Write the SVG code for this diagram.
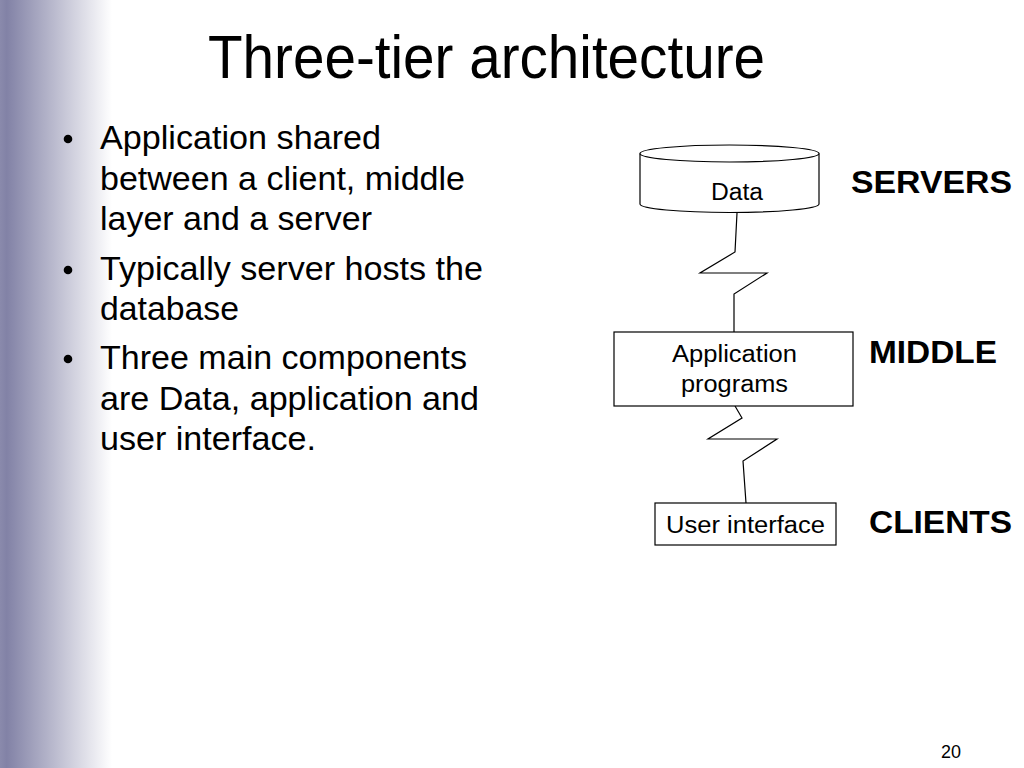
<svg xmlns="http://www.w3.org/2000/svg" width="1024" height="768" viewBox="0 0 1024 768">
<defs>
<linearGradient id="side" x1="0" y1="0" x2="1" y2="0">
<stop offset="0" stop-color="#8a8aac"/>
<stop offset="0.06" stop-color="#8282a6"/>
<stop offset="1" stop-color="#ffffff"/>
</linearGradient>
<style>
.t{font-family:"Liberation Sans",Arial,sans-serif;fill:#000}
.b{font-weight:bold}
.s{fill:#fff;stroke:#000;stroke-width:1.2}
.c{fill:none;stroke:#000;stroke-width:1.2}
</style>
</defs>
<rect width="1024" height="768" fill="#fff"/>
<rect x="0" y="0" width="112" height="768" fill="url(#side)"/>
<text class="t" x="208" y="78" font-size="61" textLength="557" lengthAdjust="spacingAndGlyphs">Three-tier architecture</text>
<g id="bullets">
<circle cx="68" cy="139" r="4.3"/>
<circle cx="68" cy="270" r="4.3"/>
<circle cx="68" cy="359" r="4.3"/>
<text class="t" x="100" y="149" font-size="33" textLength="281" lengthAdjust="spacingAndGlyphs">Application shared</text>
<text class="t" x="100" y="190" font-size="33" textLength="365" lengthAdjust="spacingAndGlyphs">between a client, middle</text>
<text class="t" x="100" y="230" font-size="33" textLength="272" lengthAdjust="spacingAndGlyphs">layer and a server</text>
<text class="t" x="100" y="280" font-size="33" textLength="383" lengthAdjust="spacingAndGlyphs">Typically server hosts the</text>
<text class="t" x="100" y="320" font-size="33" textLength="139" lengthAdjust="spacingAndGlyphs">database</text>
<text class="t" x="100" y="369" font-size="33" textLength="367" lengthAdjust="spacingAndGlyphs">Three main components</text>
<text class="t" x="100" y="410" font-size="33" textLength="379" lengthAdjust="spacingAndGlyphs">are Data, application and</text>
<text class="t" x="100" y="450" font-size="33" textLength="216" lengthAdjust="spacingAndGlyphs">user interface.</text>
</g>
<g id="connectors">
<polyline class="c" points="737,213 735,252 700,273 767,273 734,294 734,332"/>
<polyline class="c" points="735,406 742,418 708,439 777,439 743,461 746,503"/>
</g>
<g id="data">
<path class="s" d="M640,153.5 L640,204 A89.5,8.5 0 0 0 819,204 L819,153.5"/>
<ellipse class="s" cx="729.5" cy="153.5" rx="89.5" ry="8.5"/>
<text class="t" x="711" y="200" font-size="23" textLength="52" lengthAdjust="spacingAndGlyphs">Data</text>
</g>
<g id="app">
<rect class="s" x="614" y="332" width="239" height="74"/>
<text class="t" x="672" y="362" font-size="23" textLength="125" lengthAdjust="spacingAndGlyphs">Application</text>
<text class="t" x="681" y="392" font-size="23" textLength="107" lengthAdjust="spacingAndGlyphs">programs</text>
</g>
<g id="ui">
<rect class="s" x="655" y="503" width="181" height="42"/>
<text class="t" x="666" y="533" font-size="23" textLength="159" lengthAdjust="spacingAndGlyphs">User interface</text>
</g>
<g id="labels">
<text class="t b" x="851" y="193" font-size="32" textLength="161" lengthAdjust="spacingAndGlyphs">SERVERS</text>
<text class="t b" x="869" y="363" font-size="32" textLength="128" lengthAdjust="spacingAndGlyphs">MIDDLE</text>
<text class="t b" x="869" y="533" font-size="32" textLength="143" lengthAdjust="spacingAndGlyphs">CLIENTS</text>
</g>
<text class="t" x="941" y="758" font-size="18" textLength="20" lengthAdjust="spacingAndGlyphs">20</text>
</svg>
